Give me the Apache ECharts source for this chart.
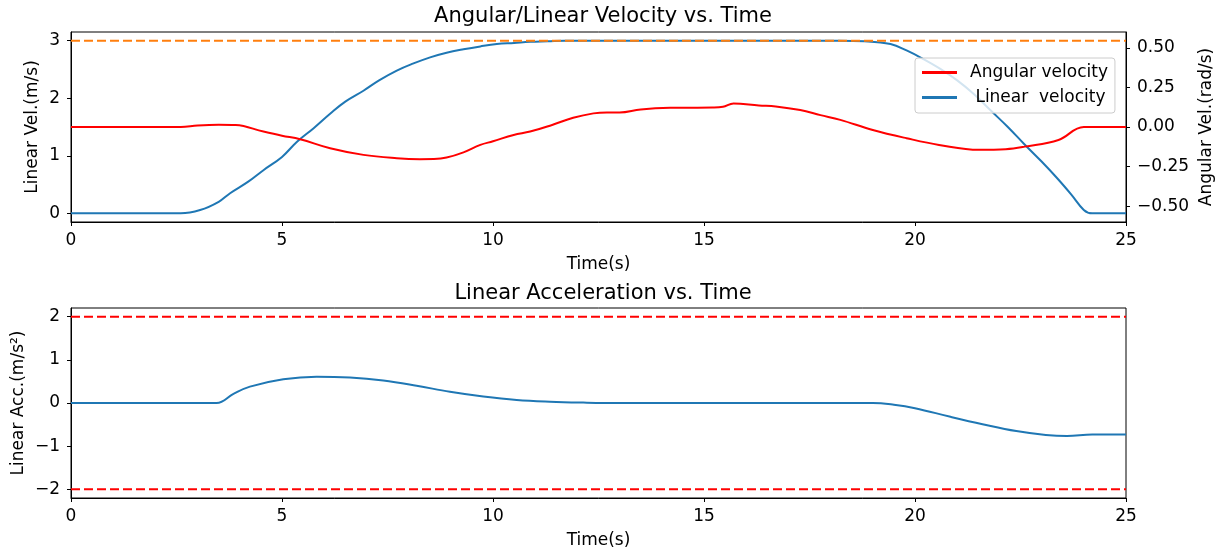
<!DOCTYPE html>
<html lang="en">
<head>
    <meta charset="UTF-8">
    <title>Velocity / Acceleration</title>
    <script src="https://cdn.jsdelivr.net/npm/echarts@6/dist/echarts.min.js"></script>
</head>
<body style="margin:0;background:#fff;">
<div id="main" style="width:1222px;height:552px;"></div>
<script>
    // linear velocity (m/s), left axis of top plot
    let linTime = [0, 2.6, 3.06, 3.5, 3.77, 4.2, 4.56, 5.0, 5.35, 5.75, 6.14, 6.5, 6.93, 7.3, 7.72, 8.1, 8.51, 8.9, 9.3, 9.7,
        10.09, 10.5, 10.88, 11.3, 11.7, 12, 18.2, 18.8, 19.42, 19.8, 20.2, 20.6, 21.0, 21.4, 21.79, 22.2, 22.58, 23.0,
        23.37, 23.7, 24.0, 24.2, 25];
    let linVel = [0, 0, 0.057, 0.2, 0.35, 0.55, 0.75, 0.98, 1.24, 1.48, 1.73, 1.94, 2.13, 2.31, 2.48, 2.6, 2.71, 2.79, 2.85, 2.9,
        2.94, 2.96, 2.98, 2.99, 3.0, 3.0, 3.0, 2.99, 2.94, 2.83, 2.68, 2.51, 2.31, 2.07, 1.79, 1.5, 1.21, 0.9,
        0.61, 0.33, 0.06, 0, 0];
    // angular velocity (rad/s), right axis of top plot
    let angTime = [0, 2.6, 3.0, 3.5, 3.9, 4.56, 5.0, 5.43, 6.14, 6.93, 7.72, 8.27, 8.6, 8.9, 9.3, 9.7, 10.0, 10.49, 10.88, 11.4,
        11.9, 12.38, 12.7, 13.0, 13.5, 14.2, 15.2, 15.45, 15.7, 16.3, 16.7, 17.28, 17.76, 18.23, 19.0, 19.8, 20.57,
        21.52, 22.15, 22.6, 23.4, 24.0, 25];
    let angVel = [0, 0, 0.01, 0.015, 0.013, -0.029, -0.055, -0.077, -0.134, -0.176, -0.197, -0.203, -0.202, -0.193, -0.16, -0.113, -0.09, -0.05, -0.029, 0.013,
        0.058, 0.086, 0.092, 0.092, 0.111, 0.121, 0.123, 0.128, 0.149, 0.136, 0.13, 0.107, 0.075, 0.045, -0.019, -0.071, -0.113,
        -0.144, -0.14, -0.124, -0.082, 0, 0];
    // linear acceleration (m/s^2), bottom plot
    let accTime = [0, 3.45, 3.85, 4.24, 5.03, 5.82, 6.61, 7.4, 8.19, 8.98, 9.77, 10.56, 11.35, 12.14, 13, 19.0, 19.5, 20.0,
        20.84, 21.6, 22.4, 23.1, 23.6, 24.2, 25];
    let accVal = [0, 0, 0.21, 0.38, 0.55, 0.61, 0.59, 0.52, 0.40, 0.26, 0.15, 0.07, 0.03, 0.01, 0, 0, -0.04, -0.12,
        -0.32, -0.49, -0.65, -0.74, -0.765, -0.73, -0.73];
    // limits
    let velLimit = 3;
    let accLimit = [2, -2];

    let timeTicks = [0, 5, 10, 15, 20, 25];
    let velTicks = [0, 1, 2, 3];
    let angTicks = [-0.5, -0.25, 0, 0.25, 0.5];
    let accTicks = [-2, -1, 0, 1, 2];

    function zip(xs, ys) {
        return xs.map((x, i) => [x, ys[i]]);
    }
    function minus(s) {
        return String(s).replace('-', '\u2212');
    }

    let font = 'DejaVu Sans';
    let txt = {color: '#000', fontFamily: font, fontSize: 17};
    let line = {show: true, onZero: false, lineStyle: {color: '#000', width: 1}};
    let tick = {show: true, inside: false, length: 4, lineStyle: {color: '#000'}};

    function xAx(grid) {
        return {
            type: 'value', gridIndex: grid, min: 0, max: 25,
            name: 'Time(s)', nameLocation: 'middle', nameGap: 34, nameMoveOverlap: false,
            nameTextStyle: {color: '#000', fontFamily: font, fontSize: 17},
            axisLine: line, axisTick: Object.assign({customValues: timeTicks}, tick),
            axisLabel: Object.assign({customValues: timeTicks, margin: 10}, txt),
            splitLine: {show: false}
        };
    }
    function yAx(grid, pos, min, max, ticks, name, gap, fmt) {
        return {
            type: 'value', gridIndex: grid, position: pos, min: min, max: max,
            name: name, nameLocation: 'middle', nameGap: gap, nameRotate: 90, nameMoveOverlap: false,
            nameTextStyle: {color: '#000', fontFamily: font, fontSize: 17},
            axisLine: line, axisTick: Object.assign({customValues: ticks}, tick),
            axisLabel: Object.assign({customValues: ticks, margin: 11, formatter: fmt}, txt),
            splitLine: {show: false}
        };
    }

    let chart = echarts.init(document.getElementById('main'));
    let option = {
        animation: false,
        backgroundColor: '#fff',
        title: [
            {text: 'Angular/Linear Velocity vs. Time', left: 598, top: 1, textAlign: 'center',
                textStyle: {fontFamily: font, fontSize: 21, fontWeight: 'normal', color: '#000'}},
            {text: 'Linear Acceleration vs. Time', left: 598, top: 278, textAlign: 'center',
                textStyle: {fontFamily: font, fontSize: 21, fontWeight: 'normal', color: '#000'}}
        ],
        legend: {
            orient: 'vertical', left: 915, top: 58,
            padding: [6, 7, 7, 7], itemGap: 8, itemWidth: 35, itemHeight: 3,
            backgroundColor: 'rgba(255,255,255,0.8)', borderColor: '#ccc', borderWidth: 1, borderRadius: 3,
            textStyle: {fontFamily: font, fontSize: 17, color: '#000', padding: [0, 0, 0, 8]},
            data: [
                {name: 'Angular velocity', icon: 'rect'},
                {name: ' Linear  velocity', icon: 'rect'}
            ]
        },
        grid: [
            {left: 71, right: 96, top: 32, height: 190, show: true, borderColor: '#000', borderWidth: 1,
                outerBoundsMode: 'none'},
            {left: 71, right: 96, top: 308, height: 190, show: true, borderColor: '#000', borderWidth: 1,
                outerBoundsMode: 'none'}
        ],
        xAxis: [xAx(0), xAx(1)],
        yAxis: [
            yAx(0, 'left', -0.15, 3.15, velTicks, 'Linear Vel.(m/s)', 30, v => minus(v)),
            yAx(0, 'right', -0.6, 0.6, angTicks, 'Angular Vel.(rad/s)', 72, v => minus(v.toFixed(2))),
            yAx(1, 'left', -2.2, 2.2, accTicks, 'Linear Acc.(m/s\u00b2)', 44, v => minus(v))
        ],
        series: [
            {
                name: ' Linear  velocity', type: 'line', xAxisIndex: 0, yAxisIndex: 0,
                data: zip(linTime, linVel), showSymbol: false, smooth: 0.4,
                lineStyle: {color: '#1f77b4', width: 2}, itemStyle: {color: '#1f77b4'}
            },
            {
                name: 'vel limit', type: 'line', xAxisIndex: 0, yAxisIndex: 0,
                data: [[0, velLimit], [25, velLimit]], showSymbol: false,
                lineStyle: {color: '#ff7f0e', width: 2, type: [9, 4]}
            },
            {
                name: 'Angular velocity', type: 'line', xAxisIndex: 0, yAxisIndex: 1,
                data: zip(angTime, angVel), showSymbol: false, smooth: 0.4,
                lineStyle: {color: '#ff0000', width: 2}, itemStyle: {color: '#ff0000'}
            },
            {
                name: 'acc', type: 'line', xAxisIndex: 1, yAxisIndex: 2,
                data: zip(accTime, accVal), showSymbol: false, smooth: 0.4,
                lineStyle: {color: '#1f77b4', width: 2}
            },
            {
                name: 'acc max', type: 'line', xAxisIndex: 1, yAxisIndex: 2,
                data: [[0, accLimit[0]], [25, accLimit[0]]], showSymbol: false,
                lineStyle: {color: '#ff0000', width: 2, type: [9, 4]}
            },
            {
                name: 'acc min', type: 'line', xAxisIndex: 1, yAxisIndex: 2,
                data: [[0, accLimit[1]], [25, accLimit[1]]], showSymbol: false,
                lineStyle: {color: '#ff0000', width: 2, type: [9, 4]}
            }
        ]
    };
    chart.setOption(option);
</script>
</body>
</html>
